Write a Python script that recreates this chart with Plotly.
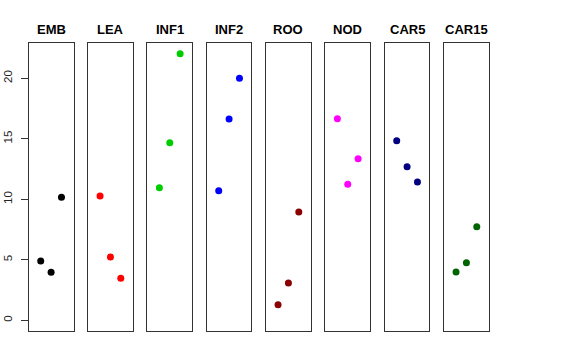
import plotly.graph_objects as go

panels = ["EMB", "LEA", "INF1", "INF2", "ROO", "NOD", "CAR5", "CAR15"]
x_pos = [1, 2, 3]
values = {
    "EMB":   [4.9, 3.97, 10.17],
    "LEA":   [10.27, 5.23, 3.47],
    "INF1":  [10.96, 14.68, 22.03],
    "INF2":  [10.71, 16.64, 20.0],
    "ROO":   [1.29, 3.08, 8.95],
    "NOD":   [16.66, 11.24, 13.36],
    "CAR5":  [14.84, 12.7, 11.43],
    "CAR15": [3.99, 4.76, 7.74],
}
colors = ["#000000", "#FF0000", "#00CD00", "#0000FF", "#8B0000", "#FF00FF", "#000080", "#006400"]
y_ticks = [0, 5, 10, 15, 20]

W, H = 576, 360
left0, pw, step = 28.7, 44.8, 59.33
top, bottom = 43.3, 331.0

fig = go.Figure()
layout = dict(
    width=W, height=H,
    margin=dict(l=0, r=0, t=0, b=0),
    paper_bgcolor="white", plot_bgcolor="white",
    showlegend=False,
    font=dict(family="Liberation Sans, Arial, sans-serif", color="black"),
    annotations=[],
)
ydom = [1 - bottom / H, 1 - top / H]
for i, (name, col) in enumerate(zip(panels, colors)):
    n = "" if i == 0 else str(i + 1)
    x0 = left0 + i * step
    xd = [x0 / W, (x0 + pw) / W]
    fig.add_trace(go.Scatter(
        x=x_pos, y=values[name], mode="markers",
        marker=dict(color=col, size=7),
        xaxis="x" + n, yaxis="y" + n,
    ))
    layout["xaxis" + n] = dict(
        domain=xd, range=[-0.16, 4.16], showgrid=False, zeroline=False,
        showticklabels=False, ticks="", showline=True, mirror=True,
        linecolor="#333333", linewidth=1, anchor="y" + n,
    )
    ya = dict(
        domain=ydom, range=[-0.88, 22.89], showgrid=False, zeroline=False,
        showline=True, mirror=True, linecolor="#333333", linewidth=1,
        anchor="x" + n,
    )
    if i == 0:
        ya.update(tickvals=y_ticks, ticktext=[str(t) for t in y_ticks],
                  ticks="outside", ticklen=7, tickcolor="#333333",
                  tickangle=-90, tickfont=dict(size=11.5, color="#222222"),
                  ticklabelstandoff=4)
    else:
        ya.update(showticklabels=False, ticks="")
    layout["yaxis" + n] = ya
    layout["annotations"].append(dict(
        text="<b>%s</b>" % name, x=(x0 + pw / 2) / W, y=1 - 29 / H,
        xref="paper", yref="paper", showarrow=False,
        xanchor="center", yanchor="middle",
        font=dict(size=13, color="black"),
    ))

fig.update_layout(**layout)
fig.write_html("out.html", config={"displayModeBar": False},
               post_script="document.body.style.margin='0';")
